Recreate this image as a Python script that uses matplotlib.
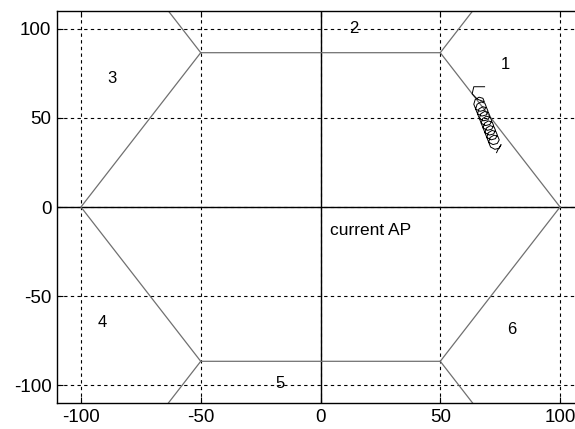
import matplotlib
matplotlib.use("Agg")
import matplotlib.pyplot as plt

# cell layout: hexagon around the current AP
hex_x = [100, 50, -50, -100, -50, 50, 100]
hex_y = [0, 86.6, 86.6, 0, -86.6, -86.6, 0]

# boundary spokes leaving the hexagon corners (start, end)
spoke_x = [(50, 63.5), (-50, -63.5), (-50, -63.5), (50, 63.5)]
spoke_y = [(86.6, 110), (86.6, 110), (-86.6, -110), (-86.6, -110)]

# neighbour cell labels
cell_labels = ["1", "2", "3", "4", "5", "6"]
label_x = [77, 14, -87, -91, -17, 80]
label_y = [80, 100, 72, -65, -99, -69]

# mobile track near cell boundary 1
track_x = [68.5, 64.0, 63.3, 65.5,
           68.40, 67.80, 66.19, 64.59, 63.99, 64.79, 66.58, 68.38,
           69.18, 68.57, 66.97, 65.37, 64.76, 65.56, 67.36, 69.16,
           69.95, 69.35, 67.75, 66.14, 65.54, 66.34, 68.13, 69.93,
           70.73, 70.13, 68.52, 66.92, 66.32, 67.11, 68.91, 70.71,
           71.50, 70.90, 69.30, 67.70, 67.09, 67.89, 69.69, 71.48,
           72.28, 71.68, 70.07, 68.47, 67.87, 68.67, 70.46, 72.26,
           73.06, 72.45, 70.85, 69.25, 68.64, 69.44, 71.24, 73.04,
           73.83, 73.23, 71.63, 70.02, 69.42, 70.22, 72.01, 73.81,
           74.61, 74.01, 72.40, 70.80, 70.20, 70.99, 72.79, 74.59,
           75.38, 74.0, 73.5]
track_y = [67.5, 67.5, 63.5, 60.5,
           59.00, 61.00, 61.63, 60.33, 57.67, 55.00, 53.70, 54.34,
           56.33, 58.33, 58.97, 57.66, 55.00, 52.34, 51.03, 51.67,
           53.67, 55.66, 56.30, 55.00, 52.33, 49.67, 48.37, 49.00,
           51.00, 53.00, 53.63, 52.33, 49.67, 47.00, 45.70, 46.34,
           48.33, 50.33, 50.97, 49.66, 47.00, 44.34, 43.03, 43.67,
           45.67, 47.66, 48.30, 47.00, 44.33, 41.67, 40.37, 41.00,
           43.00, 45.00, 45.63, 44.33, 41.67, 39.00, 37.70, 38.34,
           40.33, 42.33, 42.97, 41.66, 39.00, 36.34, 35.03, 35.67,
           37.67, 39.66, 40.30, 39.00, 36.33, 33.67, 32.37, 33.00,
           35.00, 32.0, 30.5]

ticks = [-100, -50, 0, 50, 100]

plt.rcParams['font.family'] = ['Liberation Sans', 'DejaVu Sans']
plt.rcParams['axes.unicode_minus'] = False

fig = plt.figure(figsize=(5.75, 4.29), dpi=100)
ax = fig.add_axes([57 / 575, 1 - 403 / 429, 527 / 575, 392 / 429])

ax.set_xlim(-110, 110)
ax.set_ylim(-110, 110)
ax.set_xticks(ticks)
ax.set_yticks(ticks)
ax.tick_params(direction='in', top=True, right=True, labelsize=13.5,
               length=4, width=0.8, pad=4)
ax.grid(True, color='black', linestyle=(0, (3, 3)), linewidth=0.8)
ax.set_axisbelow(True)

ax.axhline(0, color='black', linewidth=1.0)
ax.axvline(0, color='black', linewidth=1.0)

ax.plot(hex_x, hex_y, color='#707070', linewidth=0.9)
for sx, sy in zip(spoke_x, spoke_y):
    ax.plot(sx, sy, color='#707070', linewidth=0.9)

ax.plot(track_x, track_y, color='black', linewidth=0.7)

for lab, lx, ly in zip(cell_labels, label_x, label_y):
    ax.text(lx, ly, lab, fontsize=12, ha='center', va='center')
ax.text(4, -13, "current AP", fontsize=12.5, ha='left', va='center')

for side in ax.spines.values():
    side.set_linewidth(1.0)

fig.savefig("out.png", dpi=100)
